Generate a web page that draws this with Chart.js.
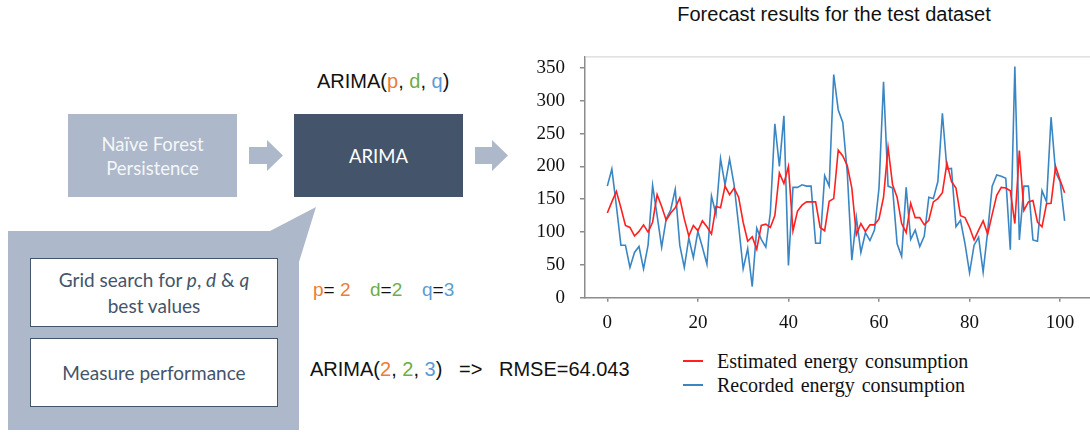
<!DOCTYPE html>
<html>
<head>
<meta charset="utf-8">
<script src="https://cdn.jsdelivr.net/npm/chart.js@4.4.0/dist/chart.umd.min.js"></script>
<style>
    body { margin: 0; background: #fff; }
    #page { position: relative; width: 1090px; height: 434px; overflow: hidden; background: #fff; }
    .abs { position: absolute; white-space: nowrap; }
    .box { position: absolute; display: flex; align-items: center; justify-content: center; text-align: center;
           font-family: Lato, "Open Sans", sans-serif; }
    .arial { font-family: "Liberation Sans", Arial, sans-serif; color: #111; }
    .or { color: #ed7d31; } .gr { color: #70ad47; } .bl { color: #5b9bd5; }
    #legend { position: absolute; left: 683px; top: 349px; font-family: "Liberation Serif", "Times New Roman", serif;
              font-size: 20px; word-spacing: 2px; color: #111; }
    #legend div { height: 24px; line-height: 24px; display: flex; align-items: center; }
    #legend span.sw { display: inline-block; width: 20px; height: 2px; margin-right: 14px; }
</style>
</head>
<body>
<div id="page">
    <!-- so do -->
    <svg class="abs" style="left:0;top:0" width="1090" height="434">
        <polygon points="8,231 270,231 316,207 299,262 299,430 8,430" fill="#adb9ca"/>
        <polygon points="249,147 267,147 267,140 283,155.5 267,171 267,164 249,164" fill="#adb9ca"/>
        <polygon points="475,147 492,147 492,140 508,155.5 492,171 492,164 475,164" fill="#adb9ca"/>
    </svg>
    <div class="box" style="left:68px;top:114px;width:169px;height:83px;background:#adb9ca;color:#f4f6f8;font-size:18.5px;line-height:24px;"><div>Naïve Forest<br>Persistence</div></div>
    <div class="box" style="left:294px;top:114px;width:169px;height:83px;background:#44546a;color:#fff;font-size:18.5px;"><div>ARIMA</div></div>
    <div class="abs arial" style="left:317px;top:70px;font-size:20px;">ARIMA(<span class="or">p</span>, <span class="gr">d</span>, <span class="bl">q</span>)</div>

    <div class="box" style="left:30px;top:258px;width:246px;height:67px;background:#fff;border:1.5px solid #44546a;color:#44546a;font-size:19px;line-height:26px;"><div>Grid search for <i>p</i>, <i>d</i> &amp; <i>q</i><br>best values</div></div>
    <div class="box" style="left:30px;top:338px;width:246px;height:67px;background:#fff;border:1.5px solid #44546a;color:#44546a;font-size:19px;"><div>Measure performance</div></div>

    <div class="abs arial" style="left:313px;top:279px;font-size:19px;"><span class="or">p</span>= <span class="or">2</span></div>
    <div class="abs arial" style="left:370px;top:279px;font-size:19px;"><span class="gr">d</span>=<span class="gr">2</span></div>
    <div class="abs arial" style="left:422px;top:279px;font-size:19px;"><span class="bl">q</span>=<span class="bl">3</span></div>
    <div class="abs arial" style="left:310px;top:358px;font-size:20px;">ARIMA(<span class="or">2</span>, <span class="gr">2</span>, <span class="bl">3</span>)&nbsp;&nbsp; =&gt;&nbsp;&nbsp; RMSE=64.043</div>

    <!-- bieu do -->
    <div class="abs arial" style="left:834px;top:3px;transform:translateX(-50%);font-size:20px;">Forecast results for the test dataset</div>
    <canvas id="forecastChart" class="abs" style="left:495px;top:30px" width="595" height="300"></canvas>
    <div id="legend"></div>
</div>

<script>
// Du lieu doc tu hinh
const seriesLabels = ['Estimated energy consumption', 'Recorded energy consumption'];
const seriesColors = ['#ff2020', '#3a86c4'];

const estimated = [
    129, 146, 162, 137, 110, 107, 94, 101, 111, 100,
    115, 157, 139, 118, 129, 137, 152, 120, 94, 110,
    102, 117, 108, 97, 139, 137, 170, 157, 167, 153,
    115, 86, 93, 74, 110, 112, 107, 125, 190, 174,
    200, 102, 132, 141, 146, 146, 146, 107, 102, 147,
    151, 225, 216, 201, 167, 96, 113, 101, 111, 111,
    120, 153, 229, 172, 153, 113, 99, 144, 122, 122,
    111, 118, 146, 151, 160, 205, 177, 167, 125, 122,
    107, 88, 103, 117, 97, 127, 156, 168, 167, 163,
    113, 224, 133, 146, 148, 115, 108, 143, 144, 200,
    179, 160
];

const recorded = [
    170, 196, 140, 80, 80, 46, 69, 78, 44, 80,
    171, 125, 77, 120, 134, 165, 80, 46, 91, 61,
    101, 77, 51, 155, 127, 212, 172, 211, 172, 110,
    44, 75, 17, 106, 89, 77, 129, 265, 200, 277,
    49, 168, 168, 172, 170, 170, 83, 83, 186, 170,
    340, 286, 267, 190, 57, 122, 69, 99, 87, 103,
    167, 329, 170, 167, 82, 63, 168, 89, 103, 78,
    94, 153, 151, 177, 281, 196, 197, 108, 118, 82,
    38, 80, 92, 39, 101, 170, 187, 185, 182, 73,
    352, 88, 170, 170, 88, 86, 163, 146, 275, 191,
    177, 117
];

const xTickValues = [0, 20, 40, 60, 80, 100];
const yTickValues = [0, 50, 100, 150, 200, 250, 300, 350];

const toPoints = arr => arr.map((v, i) => ({ x: i, y: v }));

// Duong vien tren cua khung
const topBorder = {
    id: 'topBorder',
    afterDraw(chart) {
        const { ctx, chartArea } = chart;
        ctx.save();
        ctx.strokeStyle = '#cfcfcf';
        ctx.lineWidth = 1;
        ctx.beginPath();
        ctx.moveTo(chartArea.left, chartArea.top + 0.5);
        ctx.lineTo(chartArea.right, chartArea.top + 0.5);
        ctx.stroke();
        ctx.restore();
    }
};

const tickFont = { family: '"Liberation Serif", "Times New Roman", serif', size: 19 };

const ctx = document.getElementById('forecastChart').getContext('2d');
const chart = new Chart(ctx, {
    type: 'line',
    data: {
        datasets: [
            {
                label: seriesLabels[0],
                data: toPoints(estimated),
                borderColor: seriesColors[0],
                borderWidth: 1.6,
                pointRadius: 0,
                tension: 0
            },
            {
                label: seriesLabels[1],
                data: toPoints(recorded),
                borderColor: seriesColors[1],
                borderWidth: 1.6,
                pointRadius: 0,
                tension: 0
            }
        ]
    },
    options: {
        responsive: false,
        animation: false,
        devicePixelRatio: 1,
        layout: { padding: { top: 9.3, left: 0, right: 0, bottom: 0 } },
        plugins: {
            legend: { display: false },
            tooltip: { enabled: false },
            title: { display: false }
        },
        scales: {
            x: {
                type: 'linear',
                min: -4.93,
                max: 106.6,
                afterBuildTicks: scale => { scale.ticks = xTickValues.map(v => ({ value: v })); },
                afterFit: scale => { scale.height = 32.3; },
                grid: { drawOnChartArea: false, drawTicks: true, tickLength: 4, color: '#8c8c8c', lineWidth: 1.5 },
                border: { color: '#8c8c8c', width: 1.5 },
                ticks: { font: tickFont, color: '#111', padding: 10, maxRotation: 0 }
            },
            y: {
                min: 0,
                max: 367.6,
                afterBuildTicks: scale => { scale.ticks = yTickValues.map(v => ({ value: v })); },
                afterFit: scale => { scale.width = 90; },
                grid: { drawOnChartArea: false, drawTicks: true, tickLength: 5, color: '#8c8c8c', lineWidth: 1.5 },
                border: { color: '#8c8c8c', width: 1.5 },
                ticks: { font: tickFont, color: '#111', padding: 15 }
            }
        }
    },
    plugins: [topBorder]
});

// Chu thich
const legendEl = document.getElementById('legend');
chart.data.datasets.forEach(ds => {
    const row = document.createElement('div');
    row.innerHTML = '<span class="sw" style="background:' + ds.borderColor + '"></span>' + ds.label;
    legendEl.appendChild(row);
});
</script>
</body>
</html>
